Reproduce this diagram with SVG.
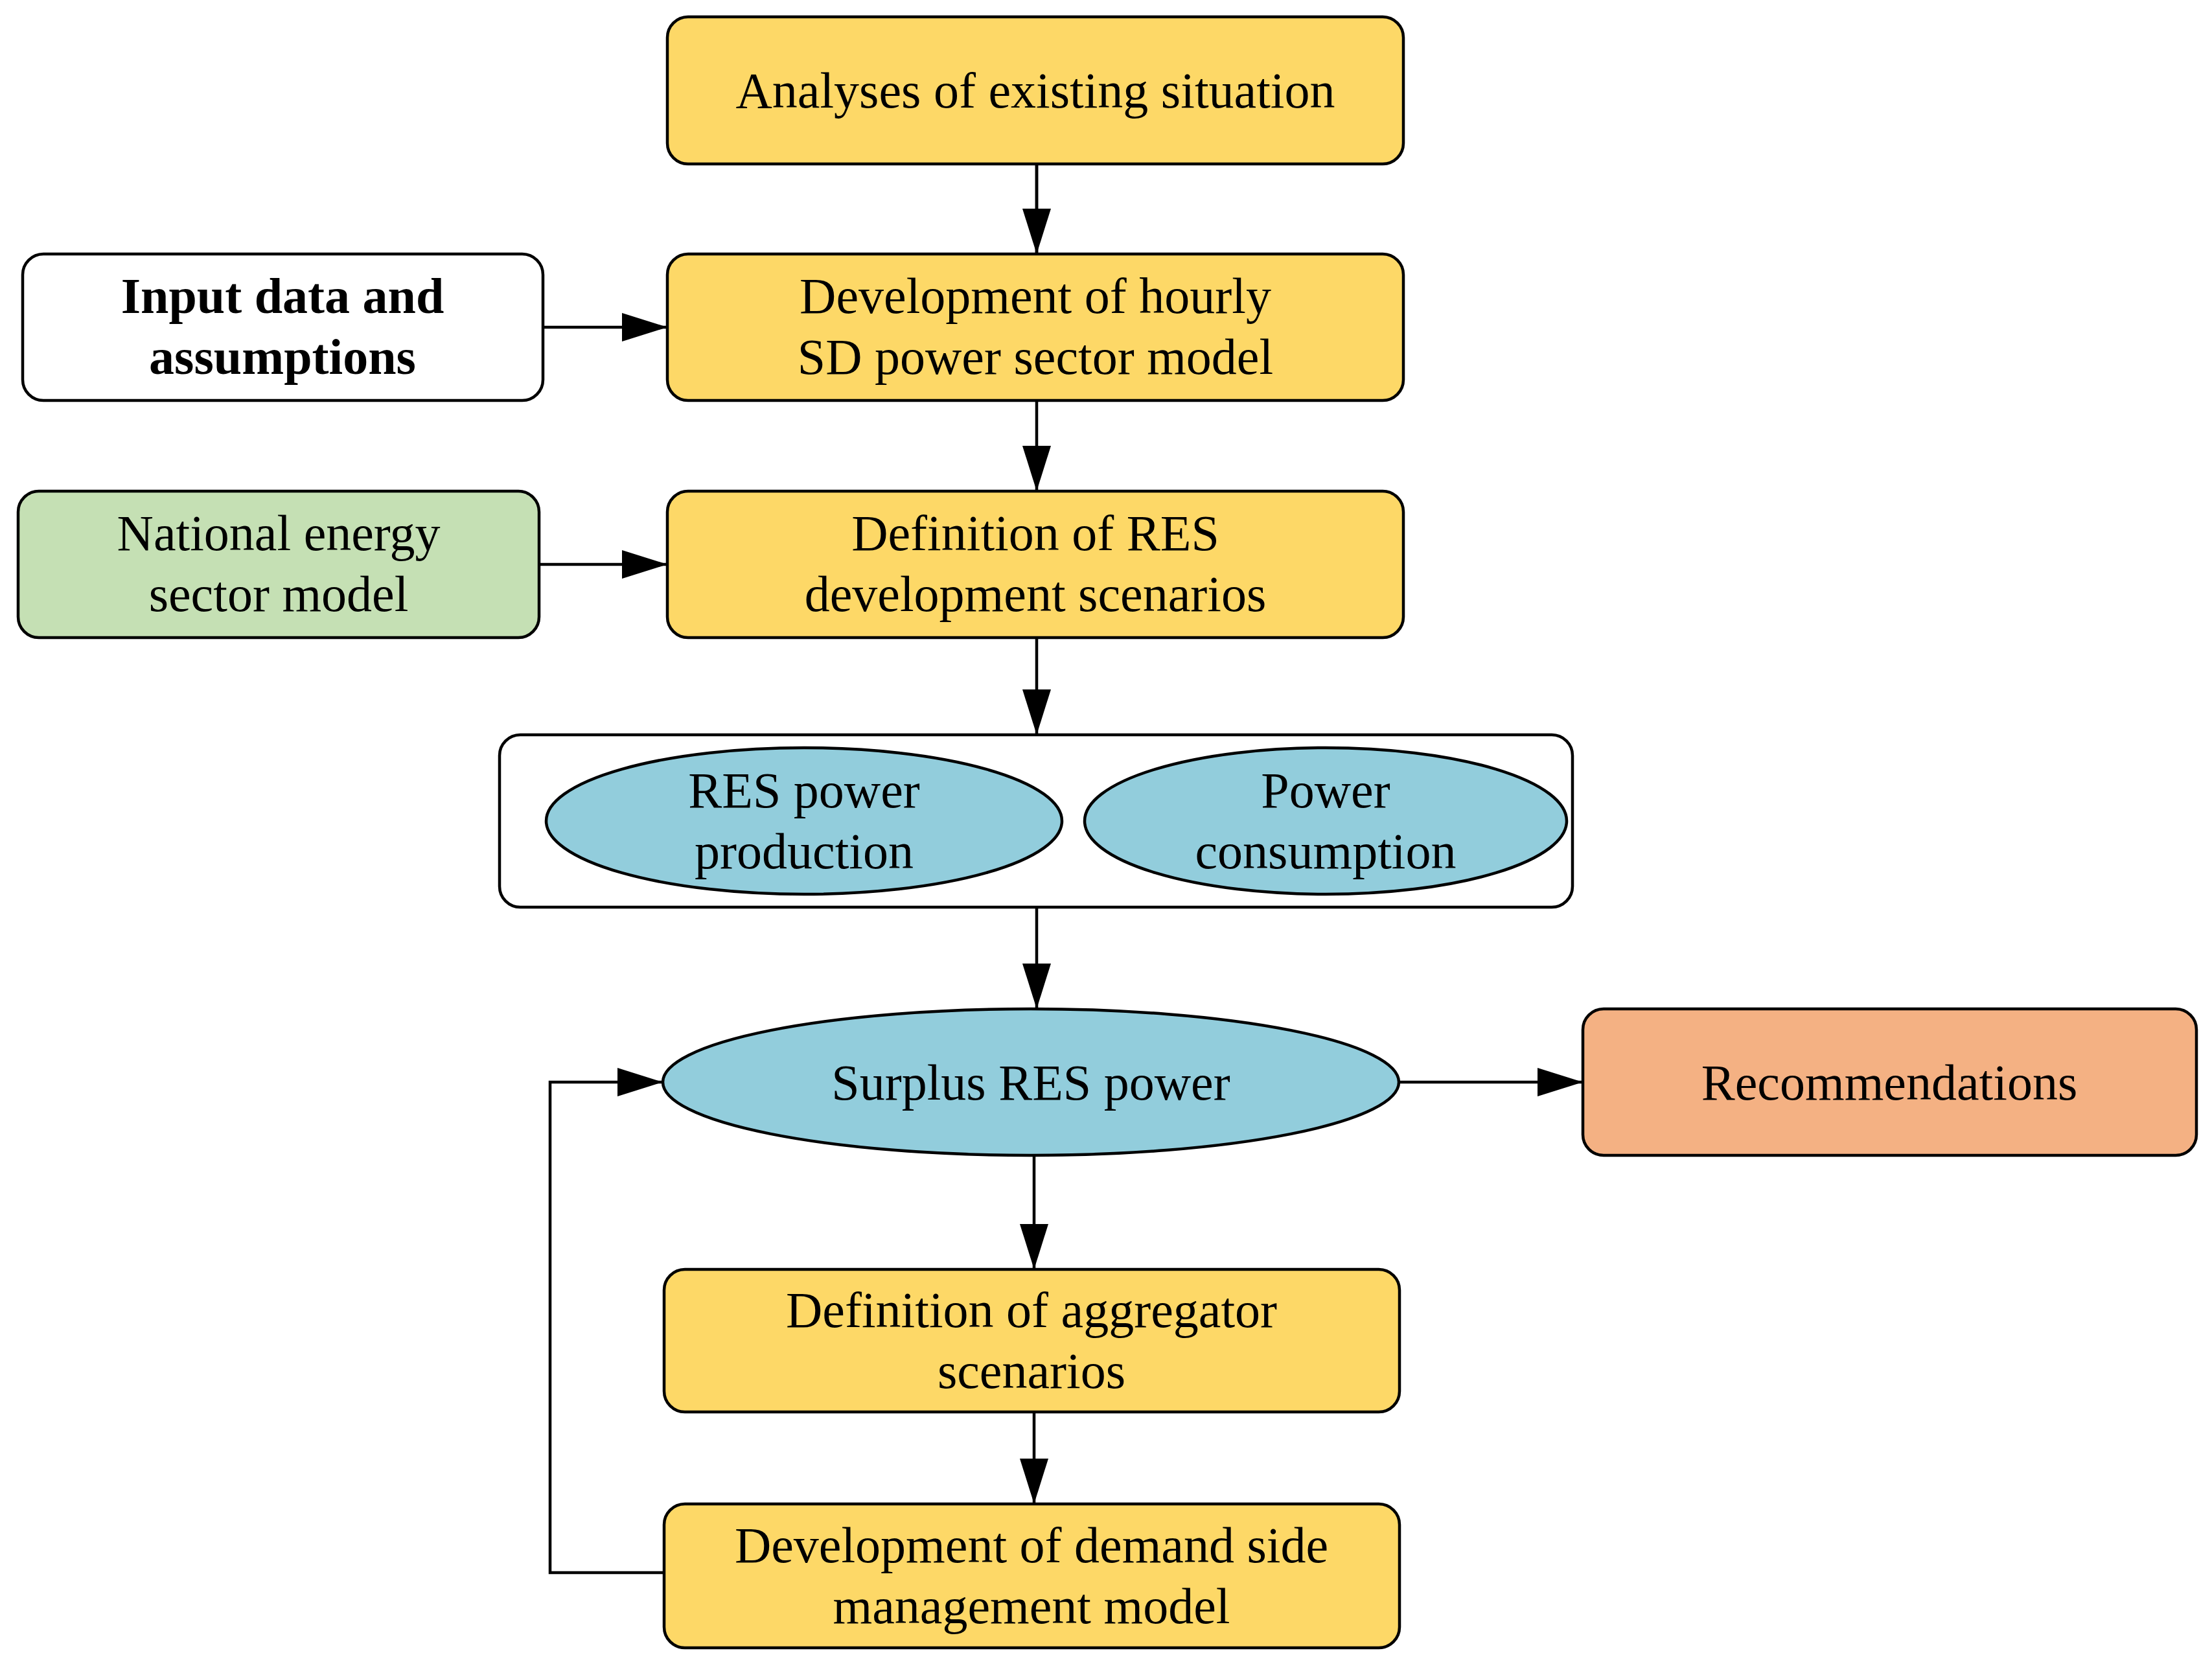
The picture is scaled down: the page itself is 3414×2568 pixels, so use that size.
<svg xmlns="http://www.w3.org/2000/svg" width="3414" height="2568" viewBox="0 0 3414 2568">
<defs>
<style>
.n{stroke:#000;stroke-width:4.5}
.y{fill:#fdd867}.w{fill:#fff}.g{fill:#c5e0b4}.b{fill:#92cddc}.o{fill:#f4b183}
text{font-family:"Liberation Serif","DejaVu Serif",serif;font-size:78px;text-anchor:middle;fill:#000}
.c{fill:none;stroke:#000;stroke-width:4.5}
</style>
<marker id="a" markerWidth="14" markerHeight="12" refX="13" refY="6" orient="auto" markerUnits="userSpaceOnUse" viewBox="0 0 14 12"><path d="M0,0L14,6L0,12z"/></marker>
</defs>
<rect width="3414" height="2568" fill="#fff"/>
<g id="connectors">
<path class="c" d="M1600,253V392" marker-end="url(#a)" style="marker-end:none"/>
</g>
<defs><marker id="h" markerWidth="80" markerHeight="80" refX="70" refY="40" orient="auto" markerUnits="userSpaceOnUse" viewBox="0 0 80 80"><path d="M0,18L70,40L0,62z"/></marker></defs>
<g id="edges">
<path class="c" d="M1600,253V392" marker-end="url(#h)"/>
<path class="c" d="M838,505H1030" marker-end="url(#h)"/>
<path class="c" d="M1600,618V758" marker-end="url(#h)"/>
<path class="c" d="M832,871H1030" marker-end="url(#h)"/>
<path class="c" d="M1600,984V1134" marker-end="url(#h)"/>
<path class="c" d="M1600,1400V1557" marker-end="url(#h)"/>
<path class="c" d="M2159,1670H2443" marker-end="url(#h)"/>
<path class="c" d="M1596,1783V1959" marker-end="url(#h)"/>
<path class="c" d="M1596,2179V2321" marker-end="url(#h)"/>
<path class="c" d="M1025,2427H849V1670H1023" marker-end="url(#h)"/>
</g>
<g id="analyses"><rect class="n y" x="1030" y="26" width="1136" height="227" rx="32"/><text x="1598" y="166">Analyses of existing situation</text></g>
<g id="input"><rect class="n w" x="35" y="392" width="803" height="226" rx="32"/><text x="436" y="483" font-weight="bold">Input data and</text><text x="436" y="577" font-weight="bold">assumptions</text></g>
<g id="hourly"><rect class="n y" x="1030" y="392" width="1136" height="226" rx="32"/><text x="1598" y="483">Development of hourly</text><text x="1598" y="577">SD power sector model</text></g>
<g id="national"><rect class="n g" x="28" y="758" width="804" height="226" rx="32"/><text x="430" y="849">National energy</text><text x="430" y="943">sector model</text></g>
<g id="res"><rect class="n y" x="1030" y="758" width="1136" height="226" rx="32"/><text x="1598" y="849">Definition of RES</text><text x="1598" y="943">development scenarios</text></g>
<g id="cluster"><rect class="n w" x="771" y="1134" width="1656" height="266" rx="32"/>
<g id="resprod"><ellipse class="n b" cx="1241" cy="1267" rx="398" ry="113"/><text x="1241" y="1246">RES power</text><text x="1241" y="1340">production</text></g>
<g id="cons"><ellipse class="n b" cx="2046" cy="1267" rx="372" ry="113"/><text x="2046" y="1246">Power</text><text x="2046" y="1340">consumption</text></g>
</g>
<g id="surplus"><ellipse class="n b" cx="1591" cy="1670" rx="568" ry="113"/><text x="1591" y="1697">Surplus RES power</text></g>
<g id="rec"><rect class="n o" x="2443" y="1557" width="947" height="226" rx="32"/><text x="2916" y="1697">Recommendations</text></g>
<g id="agg"><rect class="n y" x="1025" y="1959" width="1135" height="220" rx="32"/><text x="1592" y="2048">Definition of aggregator</text><text x="1592" y="2142">scenarios</text></g>
<g id="dsm"><rect class="n y" x="1025" y="2321" width="1135" height="222" rx="32"/><text x="1592" y="2411">Development of demand side</text><text x="1592" y="2505">management model</text></g>
</svg>
